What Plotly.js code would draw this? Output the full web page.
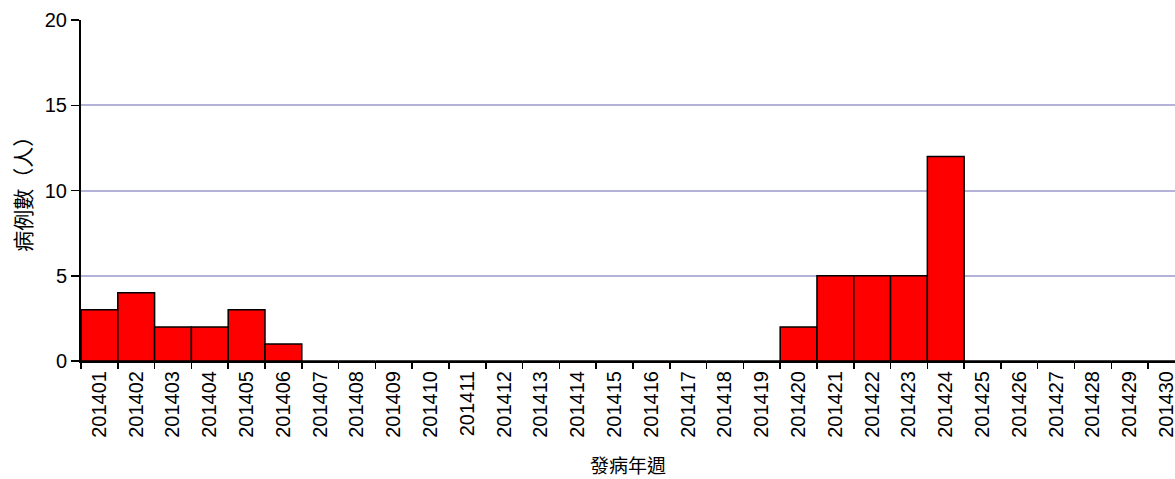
<!DOCTYPE html>
<html>
<head>
<meta charset="utf-8">
<script src="https://cdn.plot.ly/plotly-3.0.1.min.js"></script>
<style>html,body{margin:0;padding:0;background:#fff;overflow:hidden}</style>
</head>
<body>
<div id="chart" style="width:1175px;height:479px"></div>
<script>
const weeks = ["201401","201402","201403","201404","201405","201406","201407","201408","201409","201410",
"201411","201412","201413","201414","201415","201416","201417","201418","201419","201420",
"201421","201422","201423","201424","201425","201426","201427","201428","201429","201430"];
const cases = [3,4,2,2,3,1,0,0,0,0, 0,0,0,0,0,0,0,0,0,2, 5,5,5,12,0,0,0,0,0,0];
const yTitle = "病例數（人）";
const xTitle = "發病年週";

const tickFont = {family: "'Liberation Sans', Arial, sans-serif", size: 20, color: "#000"};
const xTitleFont = {family: "'Noto Sans CJK TC', 'Noto Sans', sans-serif", size: 19, color: "#000"};
const yTitleFont = {family: "'Noto Sans CJK TC', 'Noto Sans', sans-serif", size: 21, color: "#000"};

const trace = {
  type: "bar",
  x: weeks,
  y: cases,
  marker: {color: "#ff0000", line: {color: "#000000", width: 1.5}},
  hoverinfo: "x+y"
};

const layout = {
  width: 1175, height: 479,
  margin: {l: 81, r: 0, t: 20, b: 118, pad: 0},
  paper_bgcolor: "#ffffff",
  plot_bgcolor: "#ffffff",
  bargap: 0,
  showlegend: false,
  xaxis: {
    type: "category",
    range: [-0.5, 29.23],
    tickson: "boundaries",
    ticks: "outside",
    ticklen: 6,
    tickwidth: 1.5,
    tickcolor: "#000",
    tickangle: -90,
    tickfont: tickFont,
    showgrid: false,
    showline: true,
    linecolor: "#000",
    linewidth: 2,
    zeroline: false,
    automargin: false
  },
  yaxis: {
    range: [0, 20],
    tick0: 0,
    dtick: 5,
    ticks: "outside",
    ticklen: 8,
    tickwidth: 1.5,
    tickcolor: "#000",
    tickfont: tickFont,
    showgrid: true,
    gridcolor: "#b4b2d8",
    gridwidth: 2,
    showline: true,
    linecolor: "#000",
    linewidth: 2,
    zeroline: false,
    automargin: false
  },
  annotations: [
    {text: xTitle, font: xTitleFont, showarrow: false,
     xref: "paper", yref: "paper", x: 0.5, y: -0.303, xanchor: "center", yanchor: "middle"},
    {text: yTitle, font: yTitleFont, showarrow: false, textangle: -90,
     xref: "paper", yref: "paper", x: -0.054, y: 0.505, xanchor: "center", yanchor: "middle"}
  ]
};

Plotly.newPlot("chart", [trace], layout, {displayModeBar: false, staticPlot: true});
</script>
</body>
</html>
